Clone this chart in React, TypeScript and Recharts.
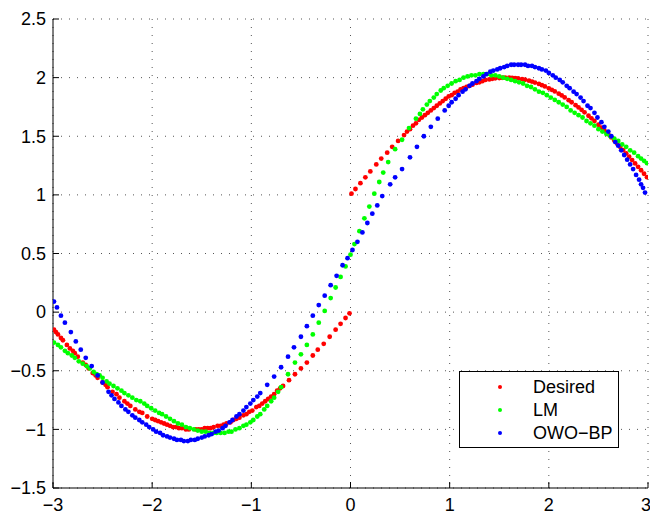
import { ScatterChart, Scatter, XAxis, YAxis, CartesianGrid, Legend } from 'recharts';

const xTicks = [-3, -2, -1, 0, 1, 2, 3];
const yTicks = [-1.5, -1, -0.5, 0, 0.5, 1, 1.5, 2, 2.5];

const desiredX = [
  -2.99, -2.97, -2.95, -2.92, -2.9, -2.86, -2.83, -2.8, -2.78, -2.75, -2.7, -2.67, -2.64, -2.6, -2.57, -2.55,
  -2.5, -2.47, -2.45, -2.4, -2.36, -2.33, -2.28, -2.25, -2.22, -2.17, -2.13, -2.1, -2.05, -2.0, -1.97, -1.94,
  -1.91, -1.88, -1.85, -1.82, -1.79, -1.76, -1.73, -1.7, -1.66, -1.63, -1.56, -1.53, -1.5, -1.47, -1.44, -1.41,
  -1.38, -1.34, -1.31, -1.28, -1.25, -1.21, -1.18, -1.15, -1.12, -1.08, -1.05, -1.02, -0.99, -0.95, -0.92, -0.89,
  -0.86, -0.83, -0.8, -0.77, -0.74, -0.71, -0.68, -0.62, -0.56, -0.5, -0.44, -0.38, -0.33, -0.27, -0.21, -0.15,
  -0.1, -0.05, -0.01,
  0.01, 0.05, 0.1, 0.15, 0.2, 0.26, 0.31, 0.37, 0.42, 0.48, 0.54, 0.57, 0.6, 0.63, 0.66, 0.69, 0.72, 0.75,
  0.78, 0.81, 0.84, 0.87, 0.9, 0.93, 0.96, 0.99, 1.02, 1.05, 1.08, 1.11, 1.14, 1.17, 1.2, 1.23, 1.27, 1.3,
  1.33, 1.36, 1.4, 1.43, 1.46, 1.5, 1.53, 1.56, 1.6, 1.63, 1.66, 1.69, 1.73, 1.76, 1.8, 1.83, 1.86, 1.9,
  1.93, 1.96, 2.0, 2.03, 2.06, 2.1, 2.13, 2.16, 2.2, 2.23, 2.27, 2.3, 2.33, 2.36, 2.4, 2.43, 2.46, 2.5,
  2.53, 2.56, 2.6, 2.63, 2.66, 2.69, 2.72, 2.75, 2.78, 2.81, 2.84, 2.87, 2.9, 2.93, 2.96, 2.99,
];
const desiredY = [
  -0.15, -0.17, -0.19, -0.22, -0.24, -0.28, -0.31, -0.33, -0.35, -0.38, -0.43, -0.45, -0.48, -0.52, -0.54, -0.56,
  -0.6, -0.62, -0.64, -0.68, -0.7, -0.73, -0.76, -0.78, -0.8, -0.83, -0.85, -0.86, -0.89, -0.91, -0.92, -0.93,
  -0.94, -0.95, -0.96, -0.97, -0.98, -0.98, -0.99, -0.99, -1.0, -1.0, -1.0, -1.0, -1.0, -0.99, -0.99, -0.99,
  -0.98, -0.97, -0.97, -0.96, -0.95, -0.94, -0.92, -0.91, -0.9, -0.88, -0.87, -0.85, -0.84, -0.81, -0.8, -0.78,
  -0.76, -0.74, -0.72, -0.7, -0.67, -0.65, -0.63, -0.58, -0.53, -0.48, -0.43, -0.37, -0.32, -0.27, -0.21, -0.15,
  -0.1, -0.05, -0.01,
  1.01, 1.05, 1.1, 1.15, 1.2, 1.26, 1.31, 1.36, 1.41, 1.46, 1.51, 1.54, 1.56, 1.59, 1.61, 1.64, 1.66, 1.68,
  1.7, 1.72, 1.74, 1.76, 1.78, 1.8, 1.82, 1.84, 1.85, 1.87, 1.88, 1.9, 1.91, 1.92, 1.93, 1.94, 1.955, 1.96,
  1.97, 1.98, 1.985, 1.99, 1.994, 1.997, 1.999, 2.0, 2.0, 1.998, 1.996, 1.993, 1.987, 1.982, 1.974, 1.966, 1.958, 1.946,
  1.936, 1.925, 1.909, 1.896, 1.882, 1.863, 1.848, 1.831, 1.808, 1.79, 1.765, 1.746, 1.725, 1.704, 1.675, 1.653, 1.631, 1.598,
  1.574, 1.549, 1.516, 1.49, 1.464, 1.435, 1.409, 1.382, 1.354, 1.326, 1.297, 1.268, 1.239, 1.21, 1.18, 1.151,
];

const lmX = [
  -2.99, -2.95, -2.92, -2.88, -2.85, -2.81, -2.78, -2.74, -2.7, -2.66, -2.63, -2.59, -2.56, -2.53, -2.5, -2.46,
  -2.43, -2.39, -2.35, -2.31, -2.28, -2.24, -2.2, -2.16, -2.12, -2.08, -2.05, -2.01, -1.97, -1.93, -1.9, -1.86,
  -1.82, -1.78, -1.74, -1.7, -1.66, -1.62, -1.58, -1.54, -1.5, -1.46, -1.42, -1.38, -1.35, -1.31, -1.27, -1.23,
  -1.2, -1.16, -1.12, -1.08, -1.05, -1.01, -0.98, -0.94, -0.91, -0.87, -0.84, -0.8, -0.77, -0.73, -0.7,
  -0.63, -0.56, -0.5, -0.44, -0.38, -0.32, -0.26, -0.2, -0.15, -0.1, -0.05, 0, 0.04, 0.09, 0.14, 0.19, 0.24,
  0.29, 0.33, 0.38, 0.45, 0.52, 0.59,
  0.66, 0.7, 0.73, 0.77, 0.8, 0.84, 0.87, 0.91, 0.94, 0.98, 1.02, 1.06, 1.1, 1.14, 1.18, 1.22, 1.26, 1.3,
  1.34, 1.38, 1.42, 1.46, 1.5, 1.54, 1.58, 1.62, 1.66, 1.7, 1.74, 1.78, 1.82, 1.86, 1.9, 1.94, 1.98, 2.02,
  2.06, 2.1, 2.14, 2.18, 2.22, 2.26, 2.3, 2.34, 2.38, 2.42, 2.46, 2.5, 2.54, 2.58, 2.62, 2.66, 2.7, 2.74,
  2.78, 2.82, 2.86, 2.9, 2.93, 2.96, 2.99,
];
const lmY = [
  -0.26, -0.28, -0.3, -0.33, -0.35, -0.37, -0.39, -0.42, -0.44, -0.46, -0.48, -0.51, -0.53, -0.54, -0.56, -0.59,
  -0.61, -0.63, -0.65, -0.67, -0.69, -0.71, -0.73, -0.75, -0.76, -0.78, -0.8, -0.82, -0.84, -0.86, -0.87, -0.89,
  -0.91, -0.93, -0.95, -0.96, -0.98, -0.99, -1.0, -1.01, -1.02, -1.02, -1.03, -1.03, -1.03, -1.03, -1.03, -1.02,
  -1.02, -1.0, -0.99, -0.97, -0.96, -0.94, -0.92, -0.89, -0.87, -0.83, -0.8, -0.76, -0.73, -0.68, -0.64,
  -0.53, -0.43, -0.36, -0.28, -0.19, -0.09, 0.01, 0.12, 0.21, 0.3, 0.39, 0.49, 0.58, 0.69, 0.8, 0.9, 1.01,
  1.11, 1.19, 1.28, 1.39, 1.47, 1.57,
  1.65, 1.69, 1.73, 1.77, 1.8, 1.83, 1.86, 1.89, 1.91, 1.93, 1.95, 1.97, 1.98, 2.0, 2.01, 2.02, 2.02, 2.03,
  2.03, 2.03, 2.02, 2.02, 2.01, 2.0, 1.99, 1.98, 1.97, 1.96, 1.95, 1.93, 1.92, 1.9, 1.88, 1.87, 1.85, 1.83,
  1.81, 1.79, 1.77, 1.75, 1.72, 1.7, 1.68, 1.66, 1.63, 1.61, 1.59, 1.56, 1.54, 1.52, 1.5, 1.48, 1.46, 1.43,
  1.41, 1.38, 1.36, 1.33, 1.31, 1.29, 1.27,
];

const owoX = [
  -2.99, -2.96, -2.92, -2.88, -2.82, -2.77, -2.72, -2.67, -2.61, -2.55, -2.5, -2.44, -2.41, -2.38, -2.34, -2.31,
  -2.27, -2.24, -2.2, -2.17, -2.13, -2.1, -2.06, -2.03, -1.99, -1.96, -1.92, -1.89, -1.85, -1.82, -1.78, -1.75,
  -1.71, -1.68, -1.64, -1.61, -1.57, -1.54, -1.5, -1.47, -1.43, -1.4, -1.36, -1.33, -1.29, -1.26, -1.22, -1.19,
  -1.15, -1.12, -1.08, -1.05, -1.01, -0.98, -0.94, -0.91, -0.84, -0.77, -0.7, -0.63, -0.57, -0.5, -0.44, -0.38,
  -0.32, -0.26, -0.2, -0.14, -0.08, -0.03, 0.02, 0.07, 0.12, 0.17, 0.22, 0.27, 0.32, 0.4, 0.45, 0.52, 0.6,
  0.67, 0.74, 0.81, 0.88, 0.95, 0.99, 1.02, 1.06, 1.09, 1.13, 1.16, 1.2, 1.23, 1.27, 1.3, 1.34, 1.37, 1.41,
  1.44, 1.48, 1.51, 1.55, 1.58, 1.62, 1.65, 1.69, 1.72, 1.76, 1.79, 1.83, 1.86, 1.9, 1.93, 1.97, 2.0, 2.04,
  2.07, 2.11, 2.14, 2.18, 2.21, 2.25, 2.28, 2.32, 2.35, 2.39, 2.42, 2.46, 2.49, 2.53, 2.56, 2.6, 2.63, 2.67,
  2.7, 2.73, 2.76, 2.79, 2.82, 2.85, 2.88, 2.91, 2.93, 2.95, 2.97,
];
const owoY = [
  0.09, 0.04, -0.03, -0.09, -0.17, -0.25, -0.32, -0.39, -0.46, -0.54, -0.6, -0.68, -0.71, -0.74, -0.77, -0.8,
  -0.83, -0.85, -0.88, -0.9, -0.92, -0.94, -0.96, -0.98, -1.0, -1.02, -1.03, -1.05, -1.06, -1.07, -1.08, -1.09,
  -1.09, -1.1, -1.1, -1.09, -1.09, -1.08, -1.07, -1.06, -1.05, -1.04, -1.02, -1.01, -0.99, -0.97, -0.94, -0.92,
  -0.89, -0.87, -0.84, -0.81, -0.78, -0.75, -0.72, -0.69, -0.62, -0.55, -0.47, -0.38, -0.3, -0.21, -0.12, -0.03,
  0.06, 0.14, 0.23, 0.31, 0.4, 0.46, 0.53, 0.6, 0.68, 0.76, 0.84, 0.91, 0.99, 1.09, 1.15, 1.22, 1.32,
  1.41, 1.5, 1.58, 1.65, 1.72, 1.76, 1.79, 1.82, 1.85, 1.88, 1.9, 1.93, 1.95, 1.97, 1.99, 2.01, 2.03, 2.05,
  2.06, 2.07, 2.08, 2.09, 2.1, 2.11, 2.11, 2.11, 2.11, 2.11, 2.1, 2.1, 2.09, 2.08, 2.07, 2.06, 2.04, 2.02,
  2.0, 1.98, 1.96, 1.93, 1.91, 1.88, 1.86, 1.83, 1.8, 1.76, 1.74, 1.7, 1.66, 1.62, 1.58, 1.54, 1.5, 1.45,
  1.42, 1.38, 1.34, 1.3, 1.26, 1.22, 1.17, 1.13, 1.09, 1.06, 1.02,
];

const seriesNames = ['Desired', 'LM', 'OWO\u2212BP'];
const seriesColors = ['#ff0000', '#00ff00', '#0000ff'];

const zip = (xs: number[], ys: number[]) => xs.map((x, i) => ({ x, y: ys[i] }));
const desiredData = zip(desiredX, desiredY);
const lmData = zip(lmX, lmY);
const owoData = zip(owoX, owoY);

const FONT = '"Liberation Sans", Arial, Helvetica, sans-serif';
const fmt = (v: number) => String(v).replace('-', '\u2212');

const dot = (color: string) => (props: any) => <circle cx={props.cx} cy={props.cy} r={2.4} fill={color} />;

const XTick = (props: any) => (
  <text x={props.x} y={props.y} dy="0.71em" textAnchor="middle" fontSize={18} fontFamily={FONT} fill="#000">
    {fmt(props.payload.value)}
  </text>
);
const YTick = (props: any) => (
  <text x={props.x} y={props.y} dy="0.35em" textAnchor="end" fontSize={18} fontFamily={FONT} fill="#000">
    {fmt(props.payload.value)}
  </text>
);

const renderLegend = () => (
  <div
    style={{
      width: 160,
      height: 77,
      boxSizing: 'border-box',
      border: '1px solid #000',
      background: '#fff',
      position: 'relative',
      fontFamily: FONT,
      fontSize: 18,
      color: '#000',
    }}
  >
    {seriesNames.map((name, i) => (
      <div key={name} style={{ position: 'absolute', left: 0, top: 4 + i * 23, height: 22, width: '100%' }}>
        <span
          style={{
            position: 'absolute',
            left: 38,
            top: 9,
            width: 4,
            height: 4,
            borderRadius: 2,
            background: seriesColors[i],
          }}
        />
        <span style={{ position: 'absolute', left: 73, top: 0, lineHeight: '22px' }}>{name}</span>
      </div>
    ))}
  </div>
);

export default function App() {
  return (
    <div style={{ position: 'absolute', left: 0, top: 0, background: '#fff' }}>
      <ScatterChart width={650} height={511} margin={{ top: 19, right: 2, bottom: 0, left: 0 }}>
        <CartesianGrid stroke="#555" strokeDasharray="1 7" />
        <XAxis
          dataKey="x"
          type="number"
          domain={[-3, 3]}
          ticks={xTicks}
          allowDataOverflow
          height={23}
          tick={XTick}
          tickSize={-6}
          tickMargin={16}
          axisLine={{ stroke: '#000' }}
          tickLine={{ stroke: '#000' }}
        />
        <XAxis
          xAxisId="top"
          orientation="top"
          dataKey="x"
          type="number"
          domain={[-3, 3]}
          ticks={xTicks}
          allowDataOverflow
          height={0}
          tickFormatter={() => ''}
          tickSize={-6}
          axisLine={{ stroke: '#000' }}
          tickLine={{ stroke: '#000' }}
        />
        <YAxis
          dataKey="y"
          type="number"
          domain={[-1.5, 2.5]}
          ticks={yTicks}
          allowDataOverflow
          width={53}
          tick={YTick}
          tickSize={-6}
          tickMargin={13}
          axisLine={{ stroke: '#000' }}
          tickLine={{ stroke: '#000' }}
        />
        <YAxis
          yAxisId="right"
          orientation="right"
          dataKey="y"
          type="number"
          domain={[-1.5, 2.5]}
          ticks={yTicks}
          allowDataOverflow
          width={0}
          tickFormatter={() => ''}
          tickSize={-6}
          axisLine={{ stroke: '#000' }}
          tickLine={{ stroke: '#000' }}
        />
        <Legend
          layout="vertical"
          align="center"
          verticalAlign="middle"
          content={renderLegend}
          wrapperStyle={{ position: 'absolute', left: 459, top: 371, width: 160, height: 77 }}
        />
        <Scatter name={seriesNames[0]} data={desiredData} fill={seriesColors[0]} shape={dot(seriesColors[0])} isAnimationActive={false} />
        <Scatter name={seriesNames[1]} data={lmData} fill={seriesColors[1]} shape={dot(seriesColors[1])} isAnimationActive={false} />
        <Scatter name={seriesNames[2]} data={owoData} fill={seriesColors[2]} shape={dot(seriesColors[2])} isAnimationActive={false} />
      </ScatterChart>
    </div>
  );
}
